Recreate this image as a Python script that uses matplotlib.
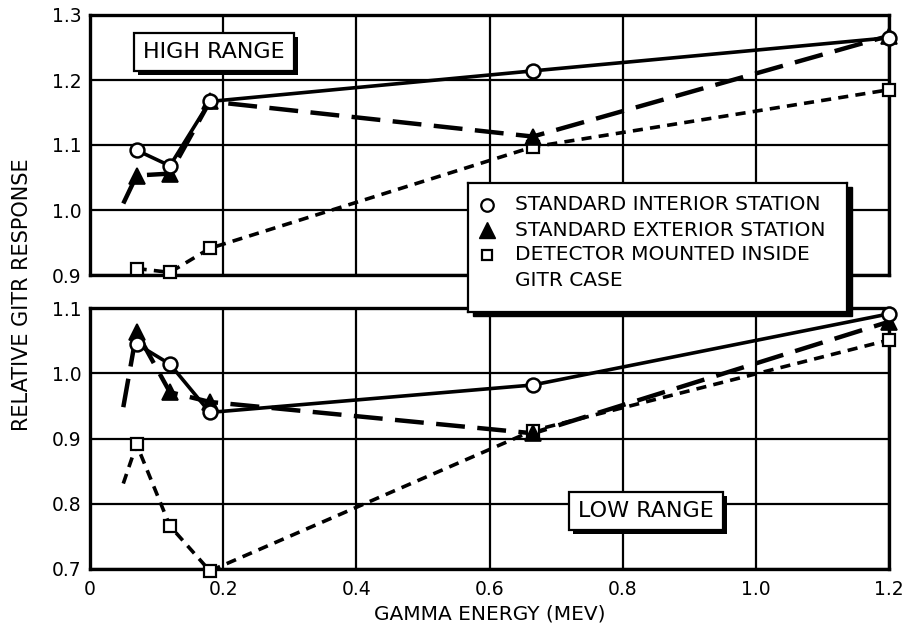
import matplotlib
matplotlib.use("Agg")
import matplotlib.pyplot as plt
from matplotlib import patheffects
from matplotlib.patches import Rectangle

# Gamma energies (MeV); the first entry of the exterior/detector lines is an
# unmarked lead-in point where the curve starts.
energy = [0.07, 0.12, 0.18, 0.665, 1.2]
lead_x = 0.05

# HIGH RANGE
high_interior = [1.092, 1.068, 1.167, 1.214, 1.265]
high_exterior = [1.053, 1.056, 1.167, 1.113, 1.268]
high_exterior_lead = 1.01
high_detector = [0.910, 0.904, 0.941, 1.097, 1.185]

# LOW RANGE
low_interior = [1.045, 1.014, 0.940, 0.982, 1.091]
low_exterior = [1.063, 0.971, 0.956, 0.908, 1.079]
low_exterior_lead = 0.948
low_detector = [0.891, 0.766, 0.697, 0.912, 1.051]
low_detector_lead = 0.831

x_ticks = [0, 0.2, 0.4, 0.6, 0.8, 1.0, 1.2]
x_tick_labels = ["0", "0.2", "0.4", "0.6", "0.8", "1.0", "1.2"]
high_ticks = [0.9, 1.0, 1.1, 1.2, 1.3]
low_ticks = [0.7, 0.8, 0.9, 1.0, 1.1]

plt.rcParams["font.family"] = ["DejaVu Sans"]

W, H = 905, 631
fig = plt.figure(figsize=(W / 100, H / 100), dpi=100)


def fx(px):
    return px / W


def fy(py):
    return 1 - py / H


ax_hi = fig.add_axes([fx(90), fy(275), fx(889) - fx(90), fy(15) - fy(275)])
ax_lo = fig.add_axes([fx(90), fy(569), fx(889) - fx(90), fy(308) - fy(569)])

LW = 2.6
solid = dict(color="black", lw=LW, linestyle="-")
long_dash = dict(color="black", lw=LW + 0.6, linestyle=(0, (6.5, 2.8)))
short_dash = dict(color="black", lw=LW, linestyle=(0, (2.8, 2.0)))
circ = dict(marker="o", ms=10, mfc="white", mec="black", mew=1.8, linestyle="none")
tri = dict(marker="^", ms=12, mfc="black", mec="black", mew=1.2, linestyle="none")
sq = dict(marker="s", ms=8, mfc="white", mec="black", mew=1.6, linestyle="none")


def draw_panel(ax, interior, exterior, detector, ext_lead=None, det_lead=None):
    ex_x = ([lead_x] if ext_lead is not None else []) + energy
    ex_y = ([ext_lead] if ext_lead is not None else []) + exterior
    de_x = ([lead_x] if det_lead is not None else []) + energy
    de_y = ([det_lead] if det_lead is not None else []) + detector
    ax.plot(de_x, de_y, zorder=3, **short_dash)
    ax.plot(ex_x, ex_y, zorder=3, **long_dash)
    ax.plot(energy, interior, zorder=3, **solid)
    ax.plot(energy, detector, zorder=4, clip_on=False, **sq)
    ax.plot(energy, exterior, zorder=4, clip_on=False, **tri)
    ax.plot(energy, interior, zorder=5, clip_on=False, **circ)


draw_panel(ax_hi, high_interior, high_exterior, high_detector, ext_lead=high_exterior_lead)
draw_panel(ax_lo, low_interior, low_exterior, low_detector,
           ext_lead=low_exterior_lead, det_lead=low_detector_lead)

for ax, ticks in ((ax_hi, high_ticks), (ax_lo, low_ticks)):
    ax.set_xlim(0, 1.2)
    ax.set_ylim(ticks[0], ticks[-1])
    ax.set_xticks(x_ticks)
    ax.set_yticks(ticks)
    ax.set_yticklabels([f"{t:.1f}" for t in ticks])
    ax.grid(True, color="black", lw=1.6)
    ax.set_axisbelow(True)
    ax.tick_params(length=0, labelsize=13.5, pad=6)
    for s in ax.spines.values():
        s.set_linewidth(2.4)

ax_hi.set_xticklabels([])
ax_lo.set_xticklabels(x_tick_labels)
ax_lo.tick_params(axis="x", pad=8)
ax_lo.set_xlabel("GAMMA ENERGY (MEV)", fontsize=14.5, labelpad=4)
fig.text(fx(22), fy(295), "RELATIVE GITR RESPONSE", rotation=90,
         ha="center", va="center", fontsize=15)


def range_label(ax, x, y, text):
    t = ax.text(x, y, text, ha="center", va="center", fontsize=16, color="black", zorder=7,
                bbox=dict(boxstyle="square,pad=0.4", fc="white", ec="black", lw=1.6))
    t.get_bbox_patch().set_path_effects([
        patheffects.SimplePatchShadow(offset=(3, -3), shadow_rgbFace="black", alpha=1.0),
        patheffects.Normal(),
    ])


range_label(ax_hi, 0.186, 1.243, "HIGH RANGE")
range_label(ax_lo, 0.835, 0.789, "LOW RANGE")

# Legend box spanning the gap between the two panels
lx0, lx1, ly0, ly1 = 468, 847, 183, 312
fig.patches.append(Rectangle((fx(lx0 + 5), fy(ly1 + 4)), fx(lx1) - fx(lx0), fy(ly0) - fy(ly1),
                             transform=fig.transFigure, fc="black", ec="black", zorder=8))
ax_leg = fig.add_axes([fx(lx0), fy(ly1), fx(lx1) - fx(lx0), fy(ly0) - fy(ly1)], zorder=10)
ax_leg.set_xlim(lx0, lx1)
ax_leg.set_ylim(ly1, ly0)
ax_leg.set_xticks([])
ax_leg.set_yticks([])
for s in ax_leg.spines.values():
    s.set_linewidth(1.6)

entries = [
    (205, dict(marker="o", ms=9, mfc="white", mec="black", mew=1.6), "STANDARD INTERIOR STATION"),
    (230, dict(marker="^", ms=11, mfc="black", mec="black"), "STANDARD EXTERIOR STATION"),
    (255, dict(marker="s", ms=7, mfc="white", mec="black", mew=1.6), "DETECTOR MOUNTED INSIDE"),
]
for ypix, mk, label in entries:
    ax_leg.plot([487], [ypix], linestyle="none", **mk)
    ax_leg.text(515, ypix, label, ha="left", va="center", fontsize=14.5)
ax_leg.text(515, 281, "GITR CASE", ha="left", va="center", fontsize=14.5)

fig.savefig("out.png", dpi=100)
